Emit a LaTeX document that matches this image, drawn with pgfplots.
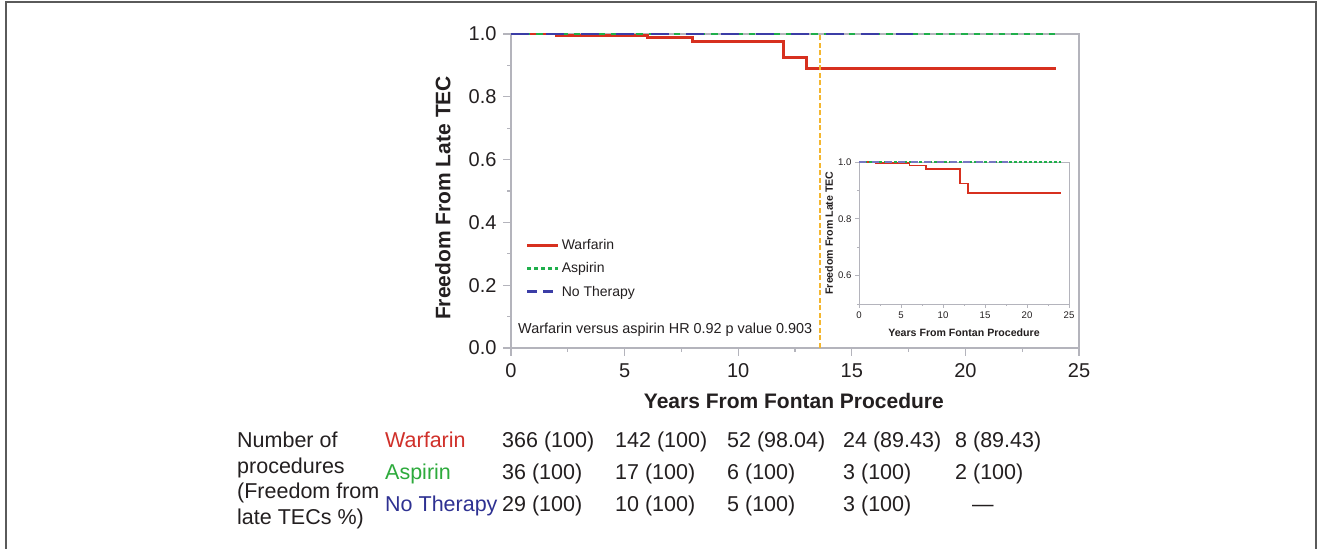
\documentclass[border=0pt]{standalone}
\usepackage{fontspec}
\setmainfont{Liberation Sans}
\usepackage{pgfplots}
\pgfplotsset{compat=1.18}
\definecolor{warf}{HTML}{D7301F}
\definecolor{asp}{HTML}{1FAF4B}
\definecolor{nother}{HTML}{3B3DA6}
\definecolor{vline}{HTML}{F4B62F}
\definecolor{axgray}{HTML}{B4B4BC}
\definecolor{framec}{HTML}{5A5A5A}
\definecolor{txt}{HTML}{231F20}
\definecolor{twarf}{HTML}{D0302A}
\definecolor{tasp}{HTML}{2DAA3C}
\definecolor{tnot}{HTML}{2E3192}

\begin{document}
\begin{tikzpicture}[x=1pt,y=1pt]
\useasboundingbox (0,0) rectangle (1318,549);
\fill[white] (0,0) rectangle (1318,549);
\draw[framec, line width=2pt] (6,-2) -- (6,547) -- (1316,547) -- (1316,-2);

\begin{axis}[
  at={(511pt,201pt)}, anchor=south west, scale only axis,
  width=568pt, height=314pt,
  xmin=0, xmax=25, ymin=0, ymax=1,
  axis line style={axgray, line width=1.4pt},
  tick style={axgray, line width=1.2pt},
  tick align=outside, xtick pos=bottom, ytick pos=left,
  major tick length=8pt, minor tick length=4pt,
  xtick={0,5,10,15,20,25}, minor xtick={2.5,7.5,12.5,17.5,22.5},
  ytick={0,0.2,0.4,0.6,0.8,1.0}, minor ytick={0.1,0.3,0.5,0.7,0.9},
  /pgf/number format/assume math mode=true,
  xticklabel style={font=\fontsize{20}{24}\selectfont, text=txt, yshift=-4pt},
  yticklabel style={font=\fontsize{20}{24}\selectfont, text=txt, xshift=-3pt,
    /pgf/number format/.cd, fixed, fixed zerofill, precision=1},
  xlabel={Years From Fontan Procedure},
  xlabel style={font=\bfseries\fontsize{21}{24}\selectfont, text=txt,
    at={(axis description cs:0.498,-0.169)}, anchor=center},
  ylabel={Freedom From Late TEC},
  ylabel style={font=\bfseries\fontsize{21}{24}\selectfont, text=txt,
    at={(axis description cs:-0.12,0.478)}, anchor=center},
  legend image code/.code={\draw[#1, line width=2pt] (0pt,0pt) -- (26pt,0pt); \path (0pt,0pt) -- (31pt,0pt);},
  legend cell align=left,
  legend style={at={(axis description cs:0.026,0.352)}, anchor=north west,
    draw=none, fill=none, font=\fontsize{14}{16}\selectfont, text=txt,
    row sep=7.5pt, inner sep=0pt},
]
\addplot[warf, line width=2.8pt, const plot] coordinates {
  (0,1) (2,0.996) (6,0.988) (8,0.976) (12,0.924) (13,0.89) (24,0.89)};
\addlegendentry{Warfarin}
\addplot[asp, line width=2.8pt, dash pattern=on 6.5pt off 6pt,
  legend image post style={dash pattern=on 4pt off 3pt}] coordinates {
  (0,1) (24,1)};
\addlegendentry{Aspirin}
\addplot[nother, line width=2.8pt, dash pattern=on 18pt off 17pt,
  legend image post style={dash pattern=on 10pt off 6pt}] coordinates {
  (0,1) (17.7,1)};
\addlegendentry{No Therapy}
\addplot[vline, line width=1.8pt, dash pattern=on 5pt off 2.5pt, forget plot] coordinates {
  (13.6,0) (13.6,1)};
\end{axis}

\node[anchor=base west, inner sep=0pt, font=\fontsize{14.4}{16}\selectfont, text=txt] at (518,215)
  {Warfarin versus aspirin HR 0.92 p value 0.903};

\begin{axis}[
  at={(859pt,245pt)}, anchor=south west, scale only axis,
  width=210pt, height=142pt,
  xmin=0, xmax=25, ymin=0.5, ymax=1,
  axis background/.style={fill=white},
  axis line style={axgray, line width=0.9pt},
  tick style={axgray, line width=0.8pt},
  tick align=outside, xtick pos=bottom, ytick pos=left,
  major tick length=4pt, minor tick length=2pt,
  xtick={0,5,10,15,20,25}, minor xtick={2.5,7.5,12.5,17.5,22.5},
  ytick={0.6,0.8,1.0}, minor ytick={0.5,0.7,0.9},
  /pgf/number format/assume math mode=true,
  xticklabel style={font=\fontsize{9.6}{11}\selectfont, text=txt},
  yticklabel style={font=\fontsize{9.6}{11}\selectfont, text=txt,
    /pgf/number format/.cd, fixed, fixed zerofill, precision=1},
  xlabel={Years From Fontan Procedure},
  xlabel style={font=\bfseries\fontsize{10.6}{12}\selectfont, text=txt,
    at={(axis description cs:0.5,-0.2)}, anchor=center},
  ylabel={Freedom From Late TEC},
  ylabel style={font=\bfseries\fontsize{10.6}{12}\selectfont, text=txt,
    at={(axis description cs:-0.143,0.5)}, anchor=center},
]
\addplot[warf, line width=1.8pt, const plot] coordinates {
  (0,1) (2,0.996) (6,0.988) (8,0.976) (12,0.924) (13,0.89) (24,0.89)};
\addplot[asp, line width=1.2pt, dash pattern=on 2.5pt off 2.5pt] coordinates {
  (0,1) (24,1)};
\addplot[nother!70!white, line width=1.3pt, dash pattern=on 7pt off 6pt] coordinates {
  (0,1) (17.7,1)};
\end{axis}

\begin{scope}[every node/.style={anchor=base west, font=\fontsize{21.5}{24}\selectfont, text=txt, inner sep=0pt}]
\node at (237,101.5) {Number of};
\node at (237,75.5) {procedures};
\node at (237,50.5) {(Freedom from};
\node at (237,24.5) {late TECs \%)};
\node[text=twarf] at (385,101.5) {Warfarin};
\node[text=tasp] at (385,69.5) {Aspirin};
\node[text=tnot] at (385,37.5) {No Therapy};
\node at (502,101.5) {366 (100)};
\node at (615,101.5) {142 (100)};
\node at (727,101.5) {52 (98.04)};
\node at (843,101.5) {24 (89.43)};
\node at (955,101.5) {8 (89.43)};
\node at (502,69.5) {36 (100)};
\node at (615,69.5) {17 (100)};
\node at (727,69.5) {6 (100)};
\node at (843,69.5) {3 (100)};
\node at (955,69.5) {2 (100)};
\node at (502,37.5) {29 (100)};
\node at (615,37.5) {10 (100)};
\node at (727,37.5) {5 (100)};
\node at (843,37.5) {3 (100)};
\node at (972,37.5) {\textemdash};
\end{scope}
\end{tikzpicture}
\end{document}
